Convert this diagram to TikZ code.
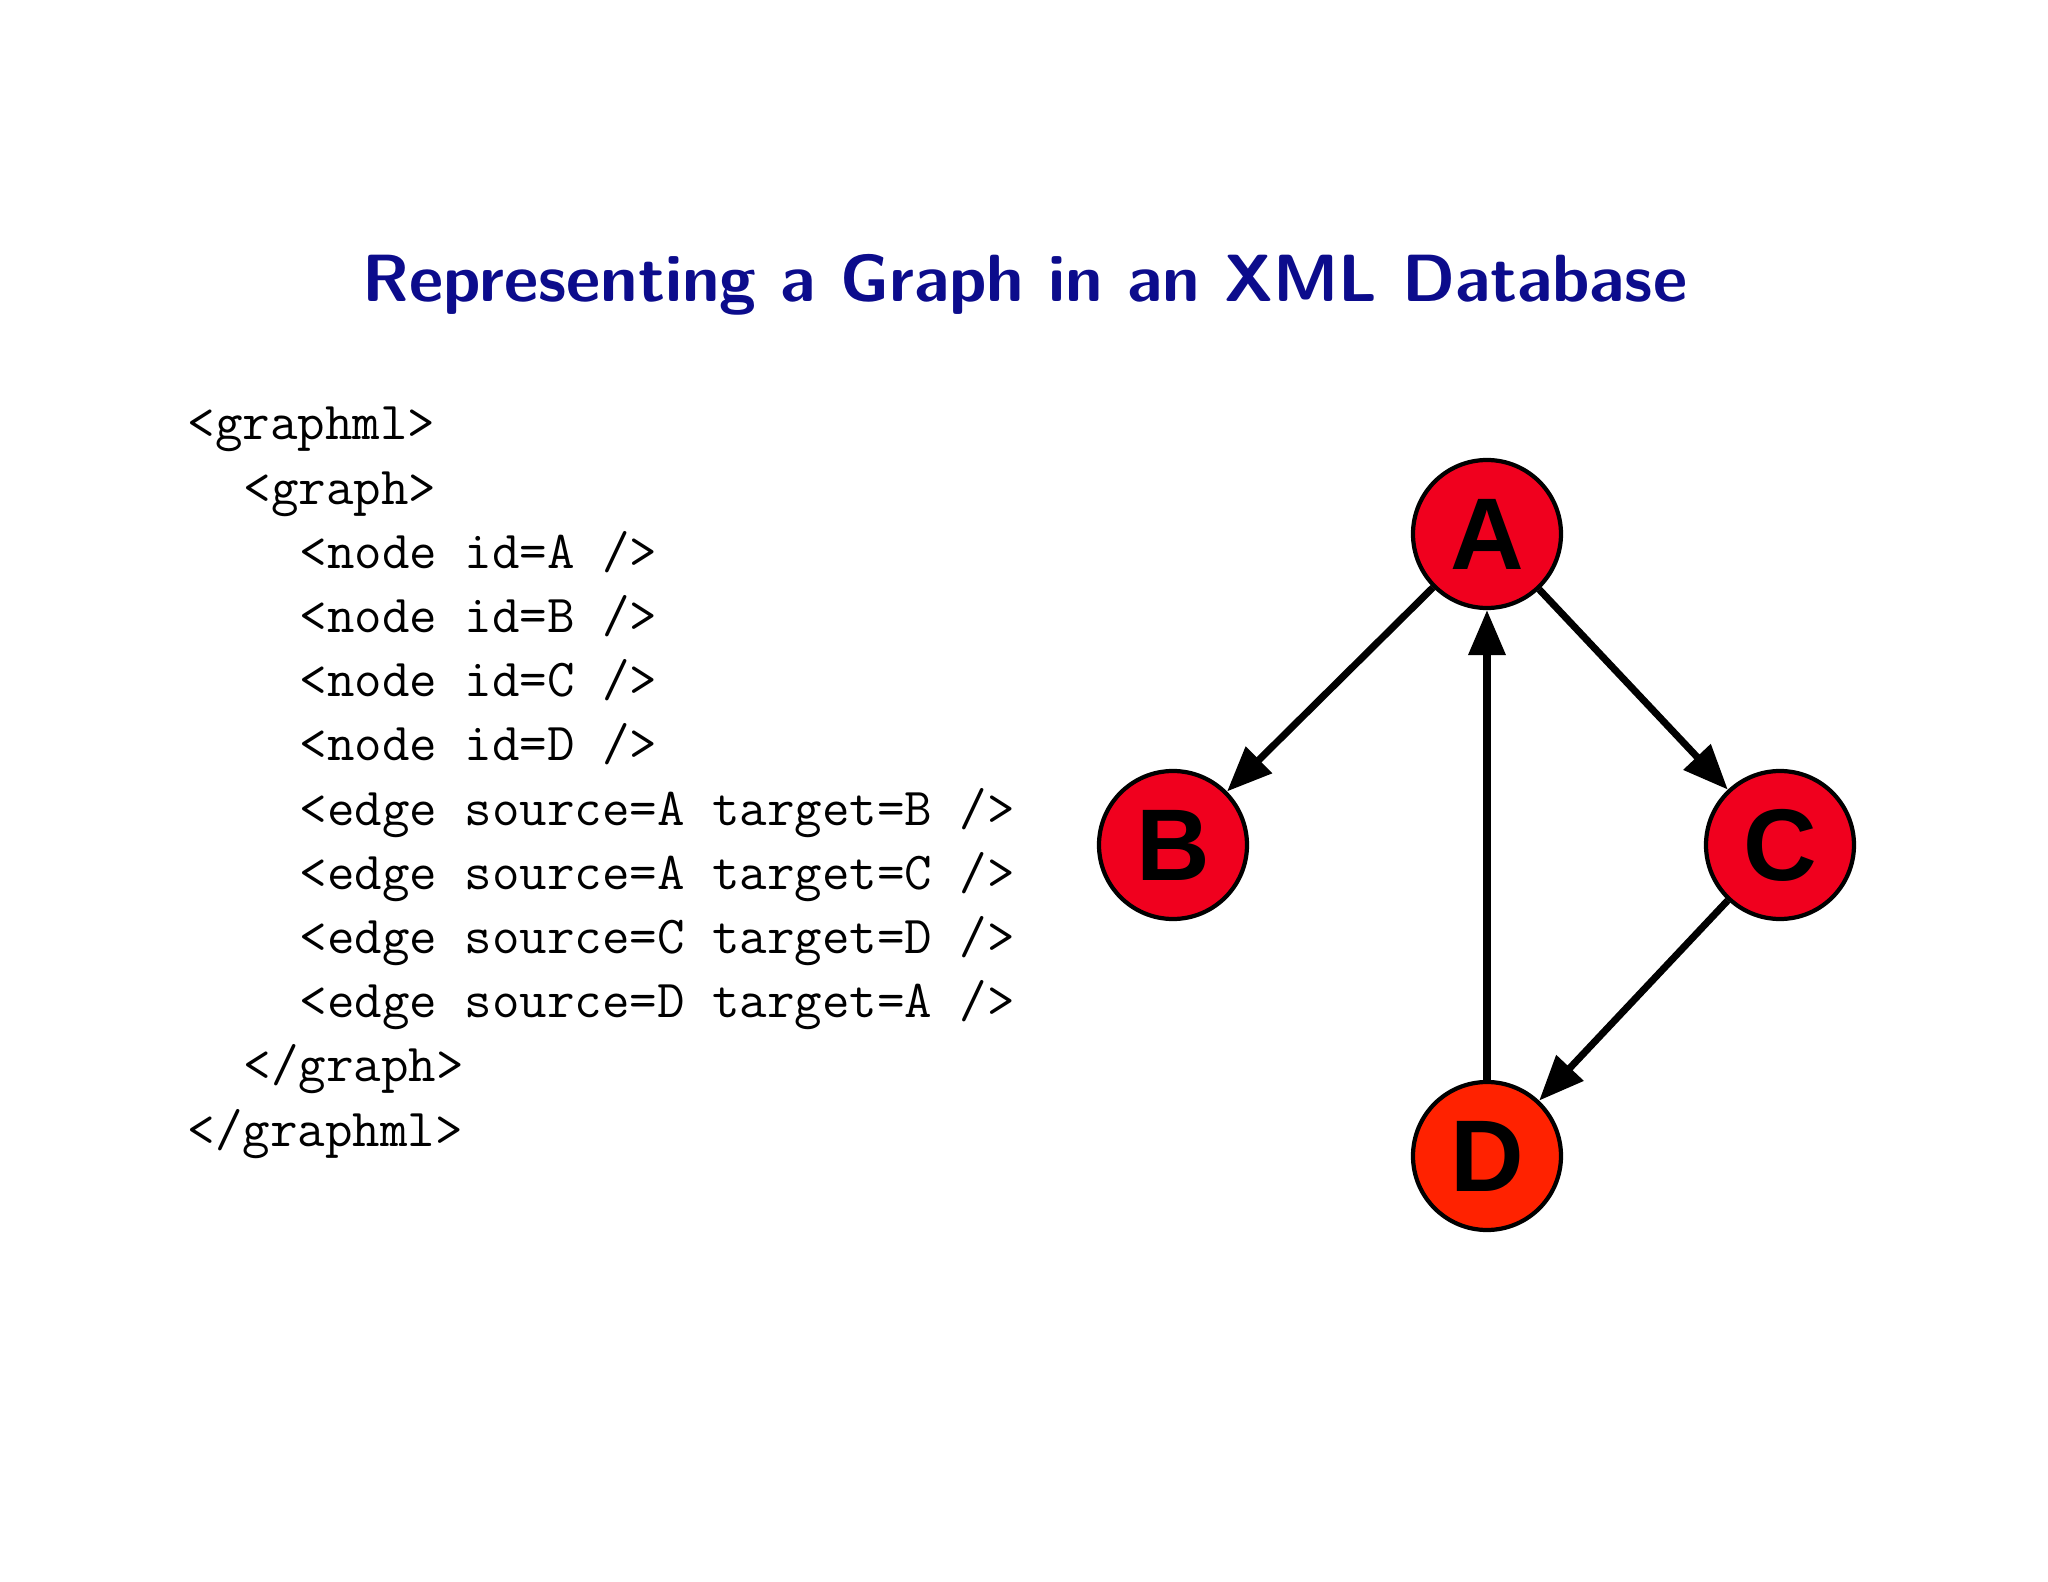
\documentclass[tikz,border=0pt]{standalone}
\usepackage{fontspec}
\newfontfamily\helv{Liberation Sans}
\usetikzlibrary{arrows.meta}
\definecolor{titleblue}{RGB}{12,12,140}
\definecolor{nodered}{RGB}{240,0,30}
\definecolor{nodeorange}{RGB}{255,34,0}
\begin{document}
\begin{tikzpicture}[x=1cm,y=1cm,
  code/.style={anchor=base west,inner sep=0pt,font=\fontsize{15.2}{18}\selectfont\ttfamily},
  gnode/.style={circle,draw=black,line width=1.2pt,fill=nodered,minimum size=1.48cm,inner sep=0pt,font=\helv\bfseries\fontsize{29}{30}\selectfont},
  edge/.style={line width=2pt,-{Triangle[length=0.45cm,width=0.36cm]}}]
\useasboundingbox (0,0) rectangle (20.48,-15.82);
\node[font=\sffamily\bfseries\fontsize{19}{22}\selectfont,text=titleblue] (title) at (10.25,-2.85) {Representing a Graph in an XML Database};
\def\bx{1.87}\def\cw{0.28}\def\ly{0.642}
\node[code] (l1) at (\bx,-4.40) {<graphml>};
\node[code] (l2) at (\bx+2*\cw,-4.40-\ly) {<graph>};
\node[code] (l3) at (\bx+4*\cw,-4.40-2*\ly) {<node id=A />};
\node[code] (l4) at (\bx+4*\cw,-4.40-3*\ly) {<node id=B />};
\node[code] (l5) at (\bx+4*\cw,-4.40-4*\ly) {<node id=C />};
\node[code] (l6) at (\bx+4*\cw,-4.40-5*\ly) {<node id=D />};
\node[code] (l7) at (\bx+4*\cw,-4.40-6*\ly) {<edge source=A target=B />};
\node[code] (l8) at (\bx+4*\cw,-4.40-7*\ly) {<edge source=A target=C />};
\node[code] (l9) at (\bx+4*\cw,-4.40-8*\ly) {<edge source=C target=D />};
\node[code] (l10) at (\bx+4*\cw,-4.40-9*\ly) {<edge source=D target=A />};
\node[code] (l11) at (\bx+2*\cw,-4.40-10*\ly) {</graph>};
\node[code] (l12) at (\bx,-4.40-11*\ly) {</graphml>};
\node[gnode] (A) at (14.87,-5.34) {A};
\node[gnode] (B) at (11.73,-8.45) {B};
\node[gnode] (C) at (17.80,-8.45) {C};
\node[gnode,fill=nodeorange] (D) at (14.87,-11.56) {D};
\draw[edge] (A) -- (B);
\draw[edge] (A) -- (C);
\draw[edge] (C) -- (D);
\draw[edge] (D) -- (A);
\end{tikzpicture}
\end{document}
